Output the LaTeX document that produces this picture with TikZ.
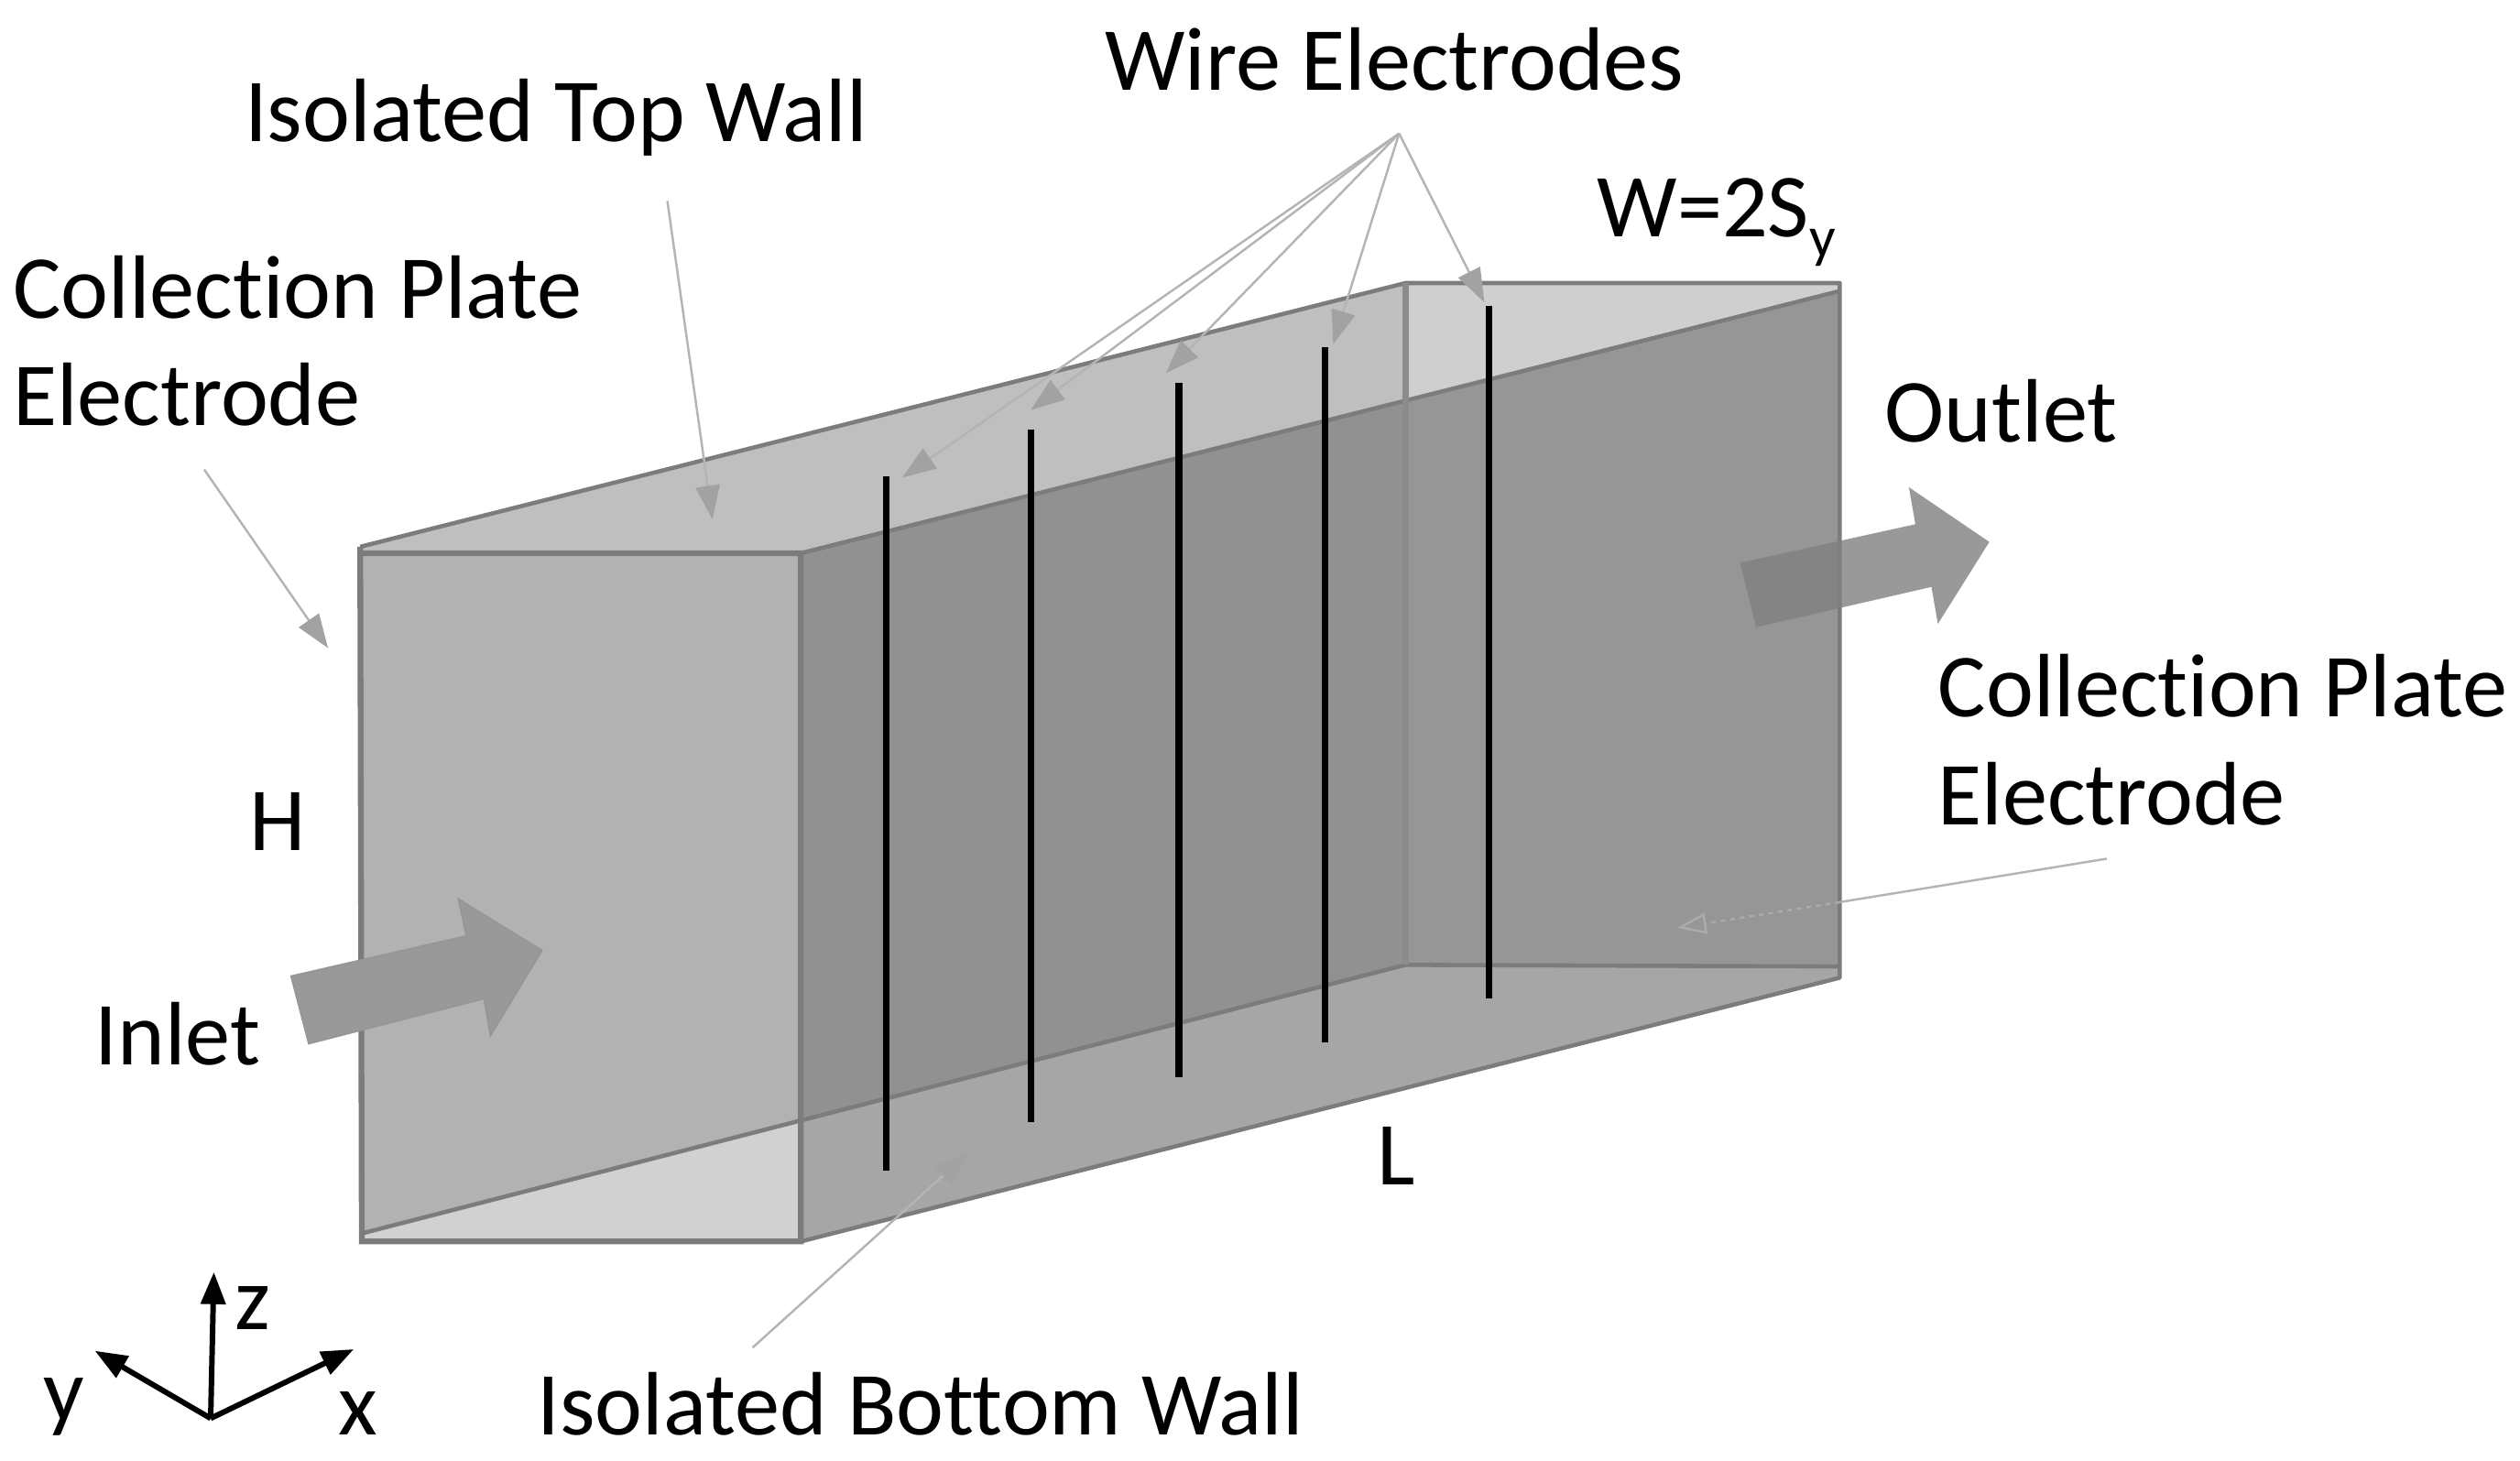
\documentclass[tikz,border=0pt]{standalone}
\usepackage{fontspec}
\setmainfont[Ligatures=NoCommon]{Carlito}
\usetikzlibrary{arrows.meta}
\definecolor{edgegray}{HTML}{7C7C7C}
\definecolor{leadgray}{HTML}{B4B4B4}
\definecolor{tipgray}{HTML}{A2A2A2}
\tikzset{
  label/.style={font=\fontsize{56}{67}\selectfont,inner sep=0pt,anchor=base west,align=left},
  leader/.style={draw=leadgray,line width=1.4pt,-{Triangle[length=21pt,width=15pt,color=tipgray]}},
  wire/.style={line width=4.3pt},
  axis/.style={line width=3.4pt,-{Triangle[length=20pt,width=15pt]}},
  boxedge/.style={draw=edgegray,line width=2.6pt,line join=round},
  frontedge/.style={draw=edgegray,line width=3.6pt,line join=miter}
}
\begin{document}
\begin{tikzpicture}[x=1pt,y=-1pt]
\useasboundingbox (0,0) rectangle (1567,908);

\coordinate (ftl) at (224,340);
\coordinate (ftop) at (224,344);
\coordinate (ftr) at (498,344);
\coordinate (fbr) at (498,772);
\coordinate (fbl) at (225,772);
\coordinate (dleft) at (225,767);
\coordinate (btl) at (874,176);
\coordinate (btr) at (1144,176);
\coordinate (wtop) at (1144,181);
\coordinate (wbot) at (1144,601);
\coordinate (bbr) at (1144,608);
\coordinate (bbl) at (874,600);
\coordinate (mtop) at (874,249);
\coordinate (mbot) at (498,697);

\fill[fill=black!19] (btl) -- (btr) -- (wtop) -- (mtop) -- cycle;
\fill[fill=black!25] (ftl) -- (btl) -- (mtop) -- (ftr) -- (ftop) -- cycle;
\fill[fill=black!30] (ftop) -- (ftr) -- (mbot) -- (dleft) -- cycle;
\fill[fill=black!18] (dleft) -- (mbot) -- (fbr) -- (fbl) -- cycle;
\fill[fill=black!43] (ftr) -- (mtop) -- (bbl) -- (mbot) -- cycle;
\fill[fill=black!41] (mtop) -- (wtop) -- (wbot) -- (bbl) -- cycle;
\fill[fill=black!35] (mbot) -- (bbl) -- (wbot) -- (bbr) -- (fbr) -- cycle;

\draw[boxedge] (ftl) -- (btl) -- (btr) -- (bbr) -- (fbr);
\draw[boxedge] (ftr) -- (wtop);
\draw[boxedge] (dleft) -- (bbl) -- (wbot);
\draw[boxedge,draw=black!45,line width=3.6pt] (btl) -- (bbl);
\draw[frontedge] (ftl) -- (fbl) -- (fbr) -- (ftr) -- (ftop);

\draw[wire] (551,296) -- (551,728);
\draw[wire] (641,267) -- (641,698);
\draw[wire] (733,238) -- (733,670);
\draw[wire] (824,216) -- (824,648);
\draw[wire] (926,190) -- (926,621);

\fill[fill=black!40,draw=edgegray!80,line width=1pt] (181,607) -- (290,582) -- (285,559) -- (337,591) -- (305,644) -- (301,621) -- (192,649) -- cycle;
\fill[fill=black!50,opacity=0.8] (1082,350) -- (1191,326) -- (1187,303) -- (1237,337) -- (1205,388) -- (1201,365) -- (1092,390) -- cycle;

\node[label] (wires) at (687,56) {Wire Electrodes};
\node[label] (topwall) at (152,88) {Isolated Top Wall};
\node[label,anchor=west] (plateleft) at (8,212) {Collection Plate\\Electrode};
\node[label] (width) at (993,147) {W=2S\raisebox{-13pt}{\fontsize{36}{36}\selectfont y}};
\node[label] (outlet) at (1172,275) {Outlet};
\node[label,anchor=west] (plateright) at (1205,460) {Collection Plate\\Electrode};
\node[label] (height) at (155,529) {H};
\node[label] (inlet) at (59,662) {Inlet};
\node[label] (length) at (856,737) {L};
\node[label] (botwall) at (334,892) {Isolated Bottom Wall};

\coordinate (wirefan) at (870,83);
\draw[leader] (wirefan) -- (561,297);
\draw[leader] (wirefan) -- (641,255);
\draw[leader] (wirefan) -- (725,232);
\draw[leader] (wirefan) -- (829,214);
\draw[leader] (wirefan) -- (923,188);
\draw[leader] (415,125) -- (443,323);
\draw[leader] (127,292) -- (204,403);
\draw[leader] (468,838) -- (602,717);
\draw[draw=leadgray,line width=1.4pt] (1310,534) -- (1144,561);
\draw[draw=black!33,line width=1.4pt,dashed,-{Triangle[open,length=18pt,width=13pt]}] (1144,561) -- (1043,577);

\coordinate (origin) at (131,882);
\draw[axis] (origin) -- (133,791);
\draw[axis] (origin) -- (220,839);
\draw[axis] (origin) -- (59,840);
\node[label] (zlabel) at (146,827) {z};
\node[label] (ylabel) at (27,884) {y};
\node[label] (xlabel) at (210,892) {x};
\end{tikzpicture}
\end{document}
